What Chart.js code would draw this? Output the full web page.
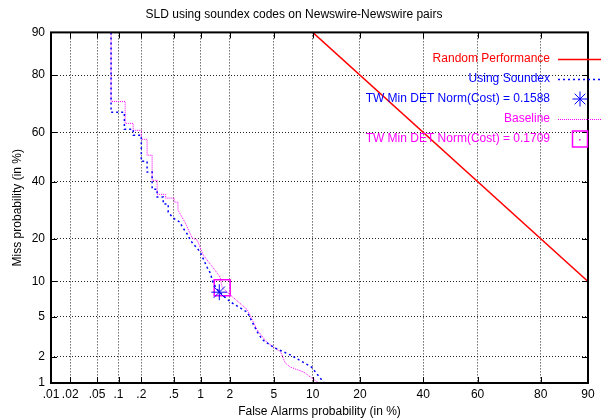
<!DOCTYPE html>
<html>
<head>
<meta charset="utf-8">
<script src="https://cdn.jsdelivr.net/npm/chart.js@4/dist/chart.umd.min.js"></script>
<style>
  body { margin: 0; background: #fff; }
  #wrap { width: 601px; height: 419px; }
</style>
</head>
<body>
<div id="wrap"><canvas id="grafik" width="601" height="419"></canvas></div>
<script>
// tick values (in %) and their labels
const xTickVals = [0.01, 0.02, 0.05, 0.1, 0.2, 0.5, 1, 2, 5, 10, 20, 40, 60, 80, 90];
const xTickLabels = ['.01', '.02', '.05', '.1', '.2', '.5', '1', '2', '5', '10', '20', '40', '60', '80', '90'];
const yTickVals = [1, 2, 5, 10, 20, 40, 60, 80, 90];
const yTickLabels = ['1', '2', '5', '10', '20', '40', '60', '80', '90'];

// random performance line
const randomFa = [10, 90];
const randomMiss = [90, 10];

// Using Soundex DET curve (false alarm %, miss %)
const soundexFa = [0.079, 0.079, 0.12, 0.12, 0.157, 0.157, 0.20, 0.20, 0.237, 0.237, 0.274, 0.274, 0.316, 0.316, 0.375, 0.375, 0.43, 0.43, 0.49, 0.59, 0.63, 0.73, 0.77, 0.99, 1.18, 1.27, 1.36, 1.57, 2.02, 2.93, 3.6, 4.0, 5.0, 6.8, 9.8, 12.0];
const soundexMiss = [90, 67.7, 67.7, 61.2, 61.2, 58.8, 58.8, 48.2, 48.2, 43.8, 43.8, 37.0, 37.0, 34.0, 34.0, 31.4, 31.4, 28.5, 26.5, 25.1, 23.5, 21.0, 19.6, 16.4, 12.7, 11.6, 9.7, 8.2, 6.8, 5.5, 3.6, 3.0, 2.5, 2.08, 1.53, 1.0];

// Baseline DET curve
const baselineFa = [0.079, 0.079, 0.123, 0.123, 0.157, 0.157, 0.20, 0.20, 0.237, 0.237, 0.274, 0.274, 0.316, 0.316, 0.40, 0.40, 0.505, 0.505, 0.56, 0.56, 0.68, 0.81, 0.92, 1.07, 1.36, 1.60, 1.68, 2.16, 2.93, 3.6, 4.4, 5.7, 6.2, 6.8, 8.6, 11.0];
const baselineMiss = [90, 71.6, 71.6, 63.5, 63.5, 60.8, 60.8, 57.2, 57.2, 50.7, 50.7, 40.5, 40.5, 35.0, 35.0, 33.6, 33.6, 32.1, 32.1, 29.2, 24.8, 20.2, 19.6, 15.6, 12.7, 10.8, 8.9, 7.4, 5.8, 3.75, 2.8, 2.24, 1.70, 1.53, 1.34, 1.0];

// min DET cost points
const soundexMinFa = [1.57];
const soundexMinMiss = [8.2];
const baselineMinFa = [1.68];
const baselineMinMiss = [8.9];

const FONT = "'Liberation Sans', Arial, sans-serif";

// inverse normal cdf (Acklam)
function probit(p) {
    const a = [-3.969683028665376e+01, 2.209460984245205e+02, -2.759285104469687e+02, 1.383577518672690e+02, -3.066479806614716e+01, 2.506628277459239e+00];
    const b = [-5.447609879822406e+01, 1.615858368580409e+02, -1.556989798598866e+02, 6.680131188771972e+01, -1.328068155288572e+01];
    const c = [-7.784894002430293e-03, -3.223964580411365e-01, -2.400758277161838e+00, -2.549732539343734e+00, 4.374664141464968e+00, 2.938163982698783e+00];
    const d = [7.784695709041462e-03, 3.224671290700398e-01, 2.445134137142996e+00, 3.754408661907416e+00];
    const pl = 0.02425;
    let q, r;
    if (p < pl) {
        q = Math.sqrt(-2 * Math.log(p));
        return (((((c[0]*q+c[1])*q+c[2])*q+c[3])*q+c[4])*q+c[5]) / ((((d[0]*q+d[1])*q+d[2])*q+d[3])*q+1);
    }
    if (p > 1 - pl) {
        q = Math.sqrt(-2 * Math.log(1 - p));
        return -(((((c[0]*q+c[1])*q+c[2])*q+c[3])*q+c[4])*q+c[5]) / ((((d[0]*q+d[1])*q+d[2])*q+d[3])*q+1);
    }
    q = p - 0.5; r = q * q;
    return (((((a[0]*r+a[1])*r+a[2])*r+a[3])*r+a[4])*r+a[5])*q / (((((b[0]*r+b[1])*r+b[2])*r+b[3])*r+b[4])*r+1);
}

function toPoints(fa, miss) {
    return fa.map((v, i) => ({ x: probit(v / 100), y: probit(miss[i] / 100) }));
}

// frame, inner tick marks and gnuplot style key
const framePlugin = {
    id: 'frame',
    afterDraw(chart) {
        const ctx = chart.ctx;
        const a = chart.chartArea;
        const xs = chart.scales.x, ys = chart.scales.y;
        ctx.save();
        ctx.strokeStyle = '#000';
        ctx.lineWidth = 1;
        ctx.beginPath();
        xTickVals.forEach(v => {
            const px = Math.round(xs.getPixelForValue(probit(v / 100))) + 0.5;
            ctx.moveTo(px, a.bottom); ctx.lineTo(px, a.bottom - 6);
            ctx.moveTo(px, a.top); ctx.lineTo(px, a.top + 6);
        });
        yTickVals.forEach(v => {
            const py = Math.round(ys.getPixelForValue(probit(v / 100))) + 0.5;
            ctx.moveTo(a.left, py); ctx.lineTo(a.left + 6, py);
            ctx.moveTo(a.right, py); ctx.lineTo(a.right - 6, py);
        });
        ctx.stroke();
        ctx.lineWidth = 2;
        ctx.strokeRect(a.left, a.top, a.right - a.left, a.bottom - a.top);

        // key
        ctx.font = '12px ' + FONT;
        ctx.textAlign = 'right';
        ctx.textBaseline = 'middle';
        chart.data.datasets.forEach((ds, i) => {
            const y = 59 + i * 20;
            ctx.fillStyle = ds.borderColor;
            ctx.fillText(ds.label, 550, y);
            ctx.strokeStyle = ds.borderColor;
            ctx.lineWidth = ds.borderWidth;
            if (ds.showLine) {
                ctx.setLineDash(ds.borderDash || []);
                ctx.beginPath();
                ctx.moveTo(558, y + 0.5); ctx.lineTo(601, y + 0.5);
                ctx.stroke();
                ctx.setLineDash([]);
            } else if (ds.pointStyle === 'star') {
                const r = 7.5, cx = 580;
                ctx.beginPath();
                ctx.moveTo(cx - r, y); ctx.lineTo(cx + r, y);
                ctx.moveTo(cx, y - r); ctx.lineTo(cx, y + r);
                ctx.moveTo(cx - r * 0.71, y - r * 0.71); ctx.lineTo(cx + r * 0.71, y + r * 0.71);
                ctx.moveTo(cx - r * 0.71, y + r * 0.71); ctx.lineTo(cx + r * 0.71, y - r * 0.71);
                ctx.stroke();
            } else {
                ctx.strokeRect(572.5, y - 8, 15, 16);
                ctx.fillRect(579, y, 1.5, 1.5);
            }
        });
        ctx.restore();
    }
};

const chart = new Chart(document.getElementById('grafik').getContext('2d'), {
    type: 'scatter',
    data: {
        datasets: [
            { label: 'Random Performance', data: toPoints(randomFa, randomMiss), showLine: true,
              borderColor: '#ff0000', borderWidth: 1.5, pointRadius: 0 },
            { label: 'Using Soundex', data: toPoints(soundexFa, soundexMiss), showLine: true,
              borderColor: '#0000ff', borderWidth: 1.5, borderDash: [2, 3], pointRadius: 0 },
            { label: 'TW Min DET Norm(Cost) = 0.1588', data: toPoints(soundexMinFa, soundexMinMiss), showLine: false,
              borderColor: '#0000ff', borderWidth: 1, pointStyle: 'star', pointRadius: 8, backgroundColor: '#0000ff' },
            { label: 'Baseline', data: toPoints(baselineFa, baselineMiss), showLine: true,
              borderColor: '#ff00ff', borderWidth: 1, borderDash: [1, 1], pointRadius: 0 },
            { label: 'TW Min DET Norm(Cost) = 0.1709', data: toPoints(baselineMinFa, baselineMinMiss), showLine: false,
              borderColor: '#ff00ff', borderWidth: 1.5, pointStyle: 'rect', pointRadius: 11.3, backgroundColor: 'rgba(0,0,0,0)' }
        ]
    },
    options: {
        responsive: false,
        animation: false,
        layout: { padding: { top: 0, right: 13, left: 0, bottom: 0 } },
        plugins: {
            legend: { display: false },
            tooltip: { enabled: false },
            title: {
                display: true,
                text: 'SLD using soundex codes on Newswire-Newswire pairs',
                color: '#000',
                font: { family: FONT, size: 12, weight: 'normal' },
                padding: { top: 7, bottom: 11 }
            }
        },
        scales: {
            x: {
                type: 'linear',
                min: probit(0.0001),
                max: probit(0.9),
                afterBuildTicks: s => { s.ticks = xTickVals.map(v => ({ value: probit(v / 100) })); },
                afterFit: s => { s.height = 36; },
                ticks: {
                    autoSkip: false, maxRotation: 0, padding: 4, color: '#000',
                    font: { family: FONT, size: 12 },
                    callback: (v, i) => xTickLabels[i]
                },
                grid: { color: '#222', lineWidth: 1, drawTicks: false },
                border: { display: false, dash: [1, 2] },
                title: {
                    display: true, text: 'False Alarms probability (in %)', color: '#000',
                    font: { family: FONT, size: 12 }, padding: { top: 0, bottom: 0 }
                }
            },
            y: {
                type: 'linear',
                min: probit(0.01),
                max: probit(0.9),
                afterBuildTicks: s => { s.ticks = yTickVals.map(v => ({ value: probit(v / 100) })); },
                afterFit: s => { s.width = 51; },
                ticks: {
                    autoSkip: false, padding: 6, color: '#000',
                    font: { family: FONT, size: 12 },
                    callback: (v, i) => yTickLabels[i]
                },
                grid: { color: '#222', lineWidth: 1, drawTicks: false },
                border: { display: false, dash: [1, 2] },
                title: {
                    display: true, text: 'Miss probability (in %)', color: '#000',
                    font: { family: FONT, size: 12 }, padding: { top: 10, bottom: 0 }
                }
            }
        }
    },
    plugins: [framePlugin]
});
</script>
</body>
</html>
